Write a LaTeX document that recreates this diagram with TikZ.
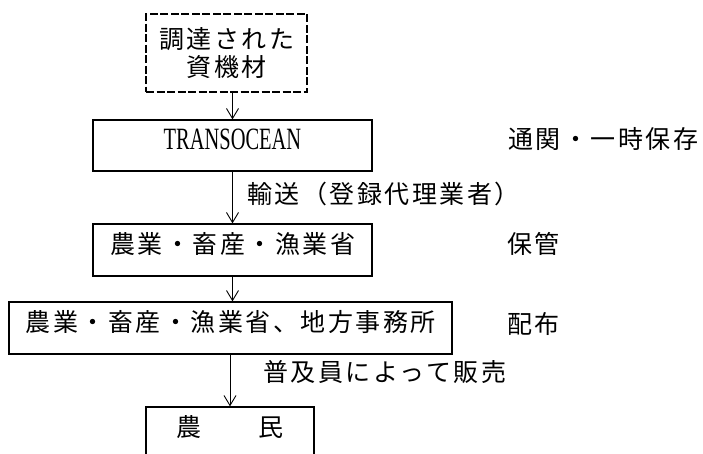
\documentclass[tikz,border=0pt]{standalone}
\usepackage{fontspec}
\setmainfont{Liberation Serif}
\newfontfamily\jp[LetterSpace=10]{Noto Sans CJK JP}
\newfontfamily\latn[FakeStretch=0.66]{Liberation Serif}
\usetikzlibrary{arrows.meta}
\tikzset{
  jpfont/.style={font=\jp\fontsize{25}{28}\selectfont},
  jptext/.style={inner sep=0pt, jpfont, text height=0.83em, text depth=0.07em},
  flowbox/.style={jptext, draw, line width=1.3pt, minimum height=52pt},
  dashbox/.style={inner sep=0pt, jpfont, draw, line width=2.2pt, dash pattern=on 8pt off 2.5pt, align=center},
  lbl/.style={jptext, anchor=west},
  arr/.style={line width=0.9pt, -{Straight Barb[length=10pt,width=12pt,line width=0.9pt]}}
}
\begin{document}
\begin{tikzpicture}[x=1pt,y=-1pt]
\useasboundingbox (0,0) rectangle (703,453);
% boxes
\node[dashbox, minimum width=161pt, minimum height=78pt] (src) at (226.5,53) {調達された\\資機材};
\node[flowbox, minimum width=279pt, minimum height=51pt, font=\latn\fontsize{31}{34}\selectfont] (trans) at (232.5,145.5) {TRANSOCEAN};
\node[flowbox, minimum width=279pt] (min) at (232.5,250) {農業・畜産・漁業省};
\node[flowbox, minimum width=443pt] (reg) at (230.5,328) {農業・畜産・漁業省、地方事務所};
\node[flowbox, minimum width=168pt] (farm) at (230,433) {農　　民};
% side labels
\node[lbl] (l1) at (508,145) {通関・一時保存};
\node[lbl] (l2) at (507,250) {保管};
\node[lbl] (l3) at (507,330) {配布};
\node[lbl] (e1) at (247,200) {輸送（登録代理業者）};
\node[lbl] (e2) at (263,378) {普及員によって販売};
% connectors
\draw[arr] (src.south -| trans.north) -- (trans.north);
\draw[arr] (trans.south) -- (min.north);
\draw[arr] (min.south) -- (min.south |- reg.north);
\draw[arr] (farm.north |- reg.south) -- (farm.north);
\end{tikzpicture}
\end{document}
